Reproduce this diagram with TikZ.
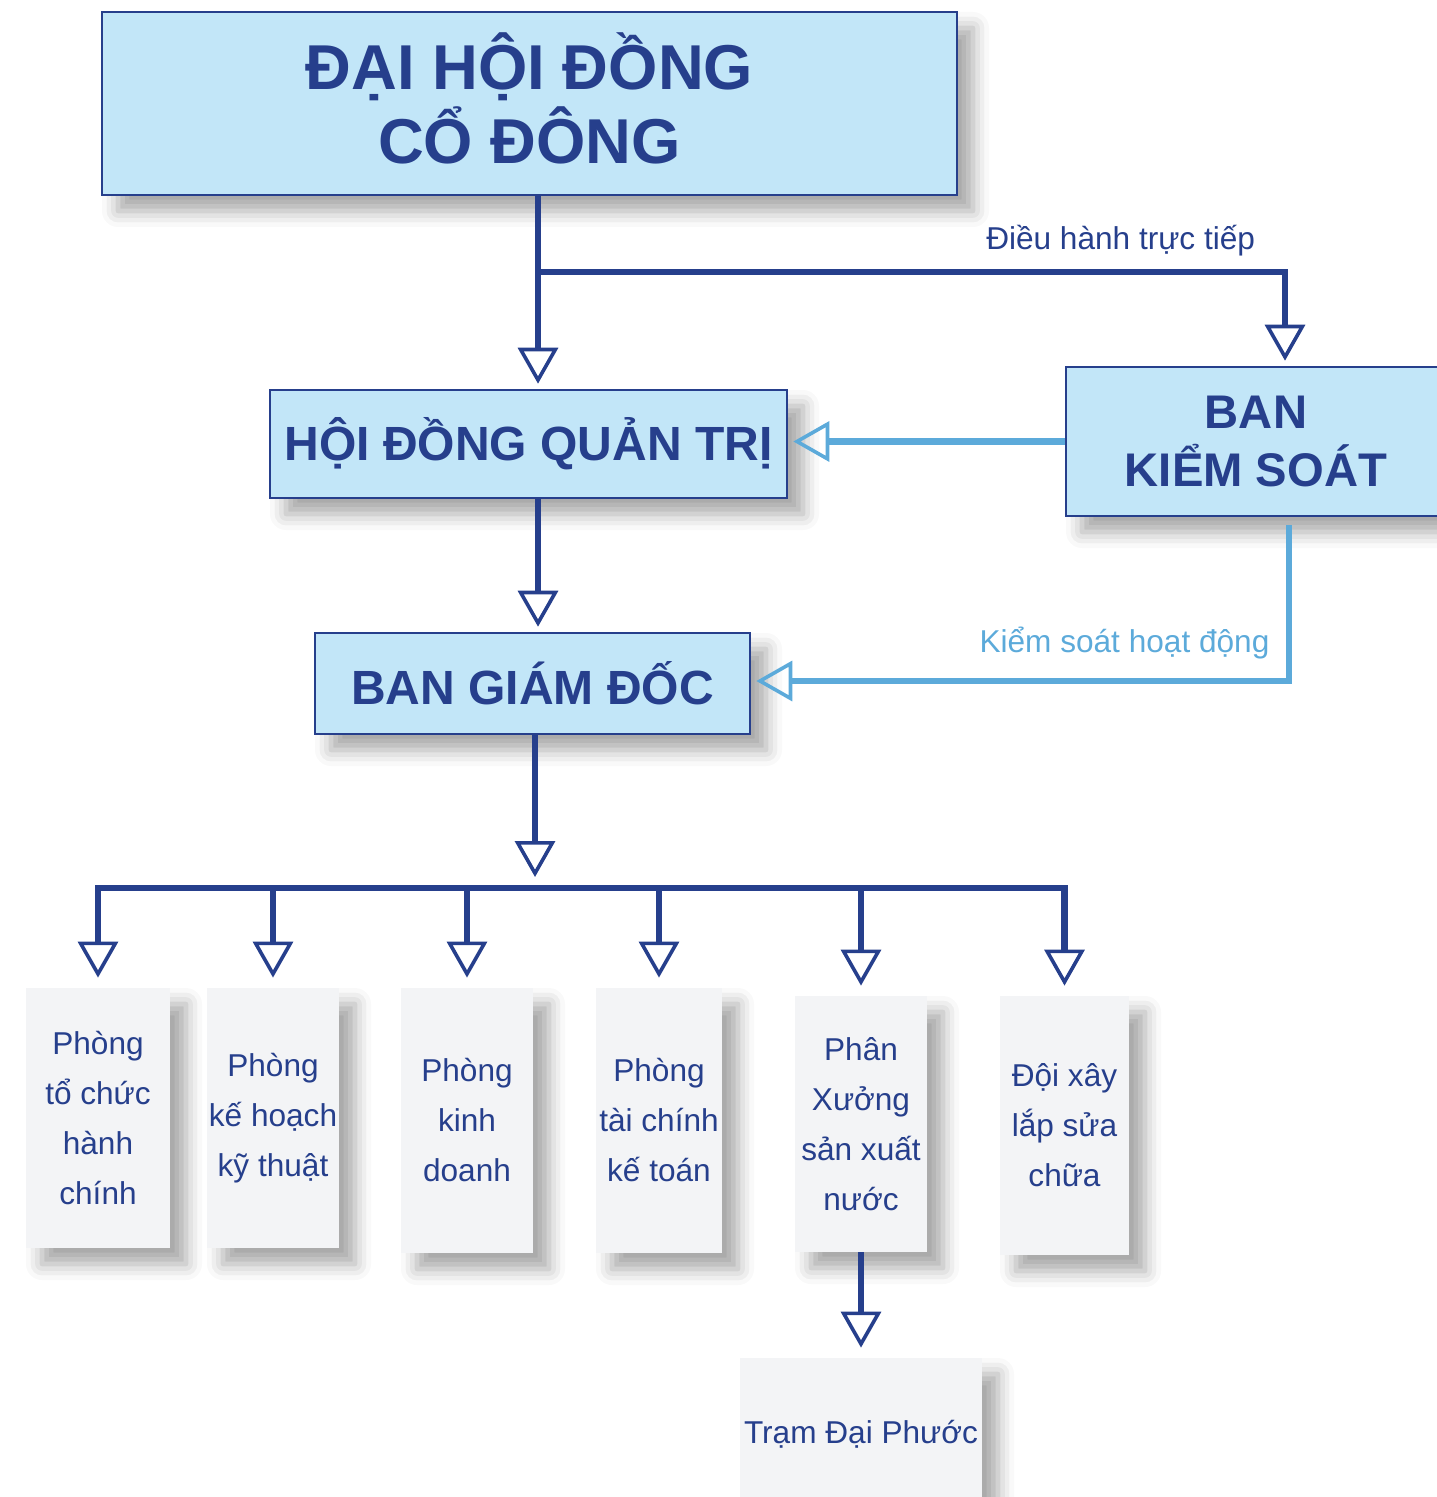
\documentclass[tikz,border=0pt]{standalone}
\usepackage{fontspec}
\setmainfont{Liberation Sans}
\usetikzlibrary{arrows.meta,shadows.blur}
\definecolor{dkblue}{RGB}{38,63,140}
\definecolor{ltfill}{RGB}{194,230,248}
\definecolor{ltline}{RGB}{92,170,218}
\definecolor{gyfill}{RGB}{243,244,246}
\tikzset{
	hbox/.style={draw=dkblue, line width=1.3pt, fill=ltfill, text=dkblue, align=center, inner sep=0pt,
		blur shadow={shadow xshift=8pt, shadow yshift=-8pt, shadow blur radius=8pt, shadow opacity=35}},
	pbox/.style={fill=gyfill, text=dkblue, align=center, inner sep=0pt, font=\fontsize{15.8}{25}\selectfont,
		blur shadow={shadow xshift=8pt, shadow yshift=-8pt, shadow blur radius=8pt, shadow opacity=35}},
	dk/.style={draw=dkblue, line width=3.2pt},
	lt/.style={draw=ltline, line width=3.2pt},
	arr/.style={-{Triangle[open, width=20pt, length=18pt, line width=1.8pt]}, shorten >=#1},
	arr/.default=2.5pt,
	lbl/.style={font=\fontsize{15.8}{19}\selectfont, anchor=base, inner sep=0pt}
}
\begin{document}
\begin{tikzpicture}[x=0.5pt, y=-0.5pt]
	\useasboundingbox (0,0) rectangle (1436,1497);
	\node[hbox, minimum width=427.5pt, minimum height=91.5pt, font=\fontsize{31.7}{37}\selectfont\bfseries] (dh) at (529.5,103.5) {ĐẠI HỘI ĐỒNG\\CỔ ĐÔNG\vphantom{Ộ}};
	\node[hbox, minimum width=258.5pt, minimum height=54pt, font=\fontsize{24}{29}\selectfont\bfseries] (hd) at (528.5,444) {HỘI ĐỒNG QUẢN TRỊ};
	\node[hbox, minimum width=190pt, minimum height=74.5pt, font=\fontsize{23.6}{29}\selectfont\bfseries] (bk) at (1256,441.5) {BAN\\KIỂM SOÁT};
	\node[hbox, minimum width=217.5pt, minimum height=50.5pt, font=\fontsize{24}{29}\selectfont\bfseries] (bg) at (532.5,683.5) {BAN GIÁM ĐỐC};

	\node[pbox, minimum width=72pt, minimum height=130pt] (p1) at (98,1118) {Phòng\\tổ chức\\hành\\chính};
	\node[pbox, minimum width=66pt, minimum height=130pt] (p2) at (273,1118) {Phòng\\kế hoạch\\kỹ thuật};
	\node[pbox, minimum width=66pt, minimum height=132.5pt] (p3) at (467,1120.5) {Phòng\\kinh\\doanh};
	\node[pbox, minimum width=63pt, minimum height=132.5pt] (p4) at (659,1120.5) {Phòng\\tài chính\\kế toán};
	\node[pbox, minimum width=66pt, minimum height=128pt] (p5) at (861,1124) {Phân\\Xưởng\\sản xuất\\nước};
	\node[pbox, minimum width=64.5pt, minimum height=129.5pt] (p6) at (1064.5,1125.5) {Đội xây\\lắp sửa\\chữa};
	\node[pbox, minimum width=121pt, minimum height=76pt] (tr) at (861,1434) {Trạm Đại Phước};

	\coordinate (j1) at (538,272);
	\coordinate (j2) at (1285,272);
	\coordinate (j3) at (1289,681);
	\coordinate (b0) at (535,888);
	\coordinate (b1) at (98,888);
	\coordinate (b2) at (1064.5,888);

	\draw[dk, arr] (dh.south -| j1) -- (hd.north -| j1);
	\draw[dk, arr] (j1) -- (j2) node[lbl, pos=0.78, yshift=11pt, text=dkblue] {Điều hành trực tiếp} -- (bk.north -| j2);
	\draw[dk, arr] (hd.south -| j1) -- (bg.north -| j1);
	\draw[lt, arr] (bk.west) -- (bk.west -| hd.east);
	\draw[lt, arr, shorten <=4pt] (bk.south -| j3) -- (j3) -- (j3 -| bg.east) node[lbl, pos=0.306, yshift=14.5pt, text=ltline] {Kiểm soát hoạt động};

	\draw[dk, arr=5.5pt] (bg.south -| b0) -- (b0);
	\draw[dk, line cap=rect] (b1) -- (b2);
	\foreach \n in {p1,p2,p3,p4,p5,p6}
		\draw[dk, arr=5pt] (\n.north |- b0) -- (\n.north);
	\draw[dk, arr=5pt] (p5.south) -- (tr.north);
\end{tikzpicture}
\end{document}
